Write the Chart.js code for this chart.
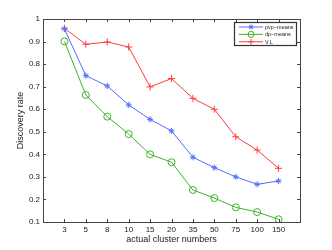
<!DOCTYPE html>
<html>
<head>
<meta charset="utf-8">
<script src="https://cdn.jsdelivr.net/npm/chart.js@4.4.1/dist/chart.umd.min.js"></script>
<style>
  html, body { margin: 0; padding: 0; background: #fff; }
  #wrap { width: 332px; height: 250px; }
</style>
</head>
<body>
<div id="wrap"><canvas id="grafico" width="332" height="250"></canvas></div>
<script>
// categorias del eje x
const clusters = ['3', '5', '8', '10', '15', '20', '35', '50', '75', '100', '150'];
// series
const pvpMeans = [0.956, 0.749, 0.703, 0.619, 0.555, 0.504, 0.387, 0.341, 0.300, 0.267, 0.282];
const dpMeans  = [0.901, 0.663, 0.567, 0.490, 0.400, 0.365, 0.242, 0.206, 0.165, 0.144, 0.112];
const vl       = [0.959, 0.888, 0.898, 0.876, 0.699, 0.736, 0.648, 0.600, 0.478, 0.419, 0.338];
const yTicks = [0.1, 0.2, 0.3, 0.4, 0.5, 0.6, 0.7, 0.8, 0.9, 1];

const azul = 'rgb(80,110,255)';
const verde = 'rgb(60,180,40)';
const rojo = 'rgb(255,60,60)';
const fuente = '"Liberation Sans", Arial, sans-serif';

const toPoints = (arr) => arr.map((v, i) => ({x: i + 1, y: v}));

const series = [
    {label: 'pvp\u2212means', data: pvpMeans, color: azul, style: 'star', radius: 3},
    {label: 'dp\u2212means', data: dpMeans, color: verde, style: 'circle', radius: 3.5},
    {label: 'V.L', data: vl, color: rojo, style: 'cross', radius: 3.5}
];

// marco tipo matlab con ticks hacia adentro
const marcoMatlab = {
    id: 'marcoMatlab',
    afterDraw(chart) {
        const {ctx, chartArea: {top, bottom, left, right}, scales: {x, y}} = chart;
        ctx.save();
        ctx.strokeStyle = '#444';
        ctx.lineWidth = 1;
        ctx.strokeRect(Math.round(left) + 0.5, Math.round(top) + 0.5,
            Math.round(right - left), Math.round(bottom - top));
        ctx.beginPath();
        const t = 3;
        for (let i = 1; i <= clusters.length; i++) {
            const px = Math.round(x.getPixelForValue(i)) + 0.5;
            ctx.moveTo(px, bottom); ctx.lineTo(px, bottom - t);
            ctx.moveTo(px, top); ctx.lineTo(px, top + t);
        }
        yTicks.forEach(v => {
            const py = Math.round(y.getPixelForValue(v)) + 0.5;
            ctx.moveTo(left, py); ctx.lineTo(left + t, py);
            ctx.moveTo(right, py); ctx.lineTo(right - t, py);
        });
        ctx.stroke();
        ctx.restore();
    }
};

// leyenda dibujada a mano
const leyenda = {
    id: 'leyenda',
    afterDraw(chart) {
        const {ctx} = chart;
        const bx = 234.5, by = 22.5, bw = 62, bh = 23;
        ctx.save();
        ctx.fillStyle = '#fff';
        ctx.fillRect(bx, by, bw, bh);
        ctx.strokeStyle = '#333';
        ctx.lineWidth = 1.2;
        ctx.strokeRect(bx, by, bw, bh);
        ctx.textBaseline = 'middle';
        ctx.textAlign = 'left';
        series.forEach((s, i) => {
            const ly = 27 + i * 7.4;
            ctx.strokeStyle = s.color;
            ctx.lineWidth = 1;
            ctx.beginPath();
            ctx.moveTo(239, ly); ctx.lineTo(263, ly);
            ctx.stroke();
            ctx.fillStyle = s.style === 'circle' ? 'rgba(0,0,0,0)' : s.color;
            Chart.helpers.drawPoint(ctx, {
                pointStyle: s.style, radius: s.radius - 0.5, borderWidth: 1, rotation: 0
            }, 251, ly);
            ctx.fillStyle = '#222';
            ctx.font = '5.5px ' + fuente;
            ctx.fillText(s.label, 265, ly + 0.5);
        });
        ctx.restore();
    }
};

const config = {
    type: 'line',
    data: {
        datasets: series.map(s => ({
            label: s.label,
            data: toPoints(s.data),
            borderColor: s.color,
            backgroundColor: s.style === 'circle' ? 'rgba(0,0,0,0)' : s.color,
            pointBorderColor: s.color,
            pointBackgroundColor: s.style === 'circle' ? 'rgba(0,0,0,0)' : s.color,
            pointStyle: s.style,
            pointRadius: s.radius,
            pointBorderWidth: 1,
            borderWidth: 1,
            tension: 0
        }))
    },
    options: {
        responsive: false,
        animation: false,
        layout: {padding: {left: 0, right: 32, top: 19, bottom: 0}},
        plugins: {
            legend: {display: false},
            tooltip: {enabled: false}
        },
        scales: {
            x: {
                type: 'linear',
                min: 0,
                max: 12,
                afterBuildTicks: (sc) => { sc.ticks = clusters.map((c, i) => ({value: i + 1})); },
                afterFit: (sc) => { sc.height = 28; },
                grid: {display: false, drawTicks: false},
                border: {display: false},
                ticks: {
                    autoSkip: false,
                    maxRotation: 0,
                    padding: 3,
                    color: '#222',
                    font: {family: fuente, size: 8},
                    callback: (v) => clusters[v - 1] || ''
                },
                title: {
                    display: true,
                    text: 'actual cluster numbers',
                    color: '#222',
                    font: {family: fuente, size: 9},
                    padding: {top: 0, bottom: 5}
                }
            },
            y: {
                min: 0.1,
                max: 1,
                afterBuildTicks: (sc) => { sc.ticks = yTicks.map(v => ({value: v})); },
                afterFit: (sc) => { sc.width = 43; },
                grid: {display: false, drawTicks: false},
                border: {display: false},
                ticks: {
                    padding: 3,
                    color: '#222',
                    font: {family: fuente, size: 8},
                    callback: (v) => v === 1 ? '1' : v.toFixed(1)
                },
                title: {
                    display: true,
                    text: 'Discovery rate',
                    color: '#222',
                    font: {family: fuente, size: 9},
                    padding: {top: 15, bottom: 0}
                }
            }
        }
    },
    plugins: [marcoMatlab, leyenda]
};

const grafico = new Chart(document.getElementById('grafico'), config);
</script>
</body>
</html>
